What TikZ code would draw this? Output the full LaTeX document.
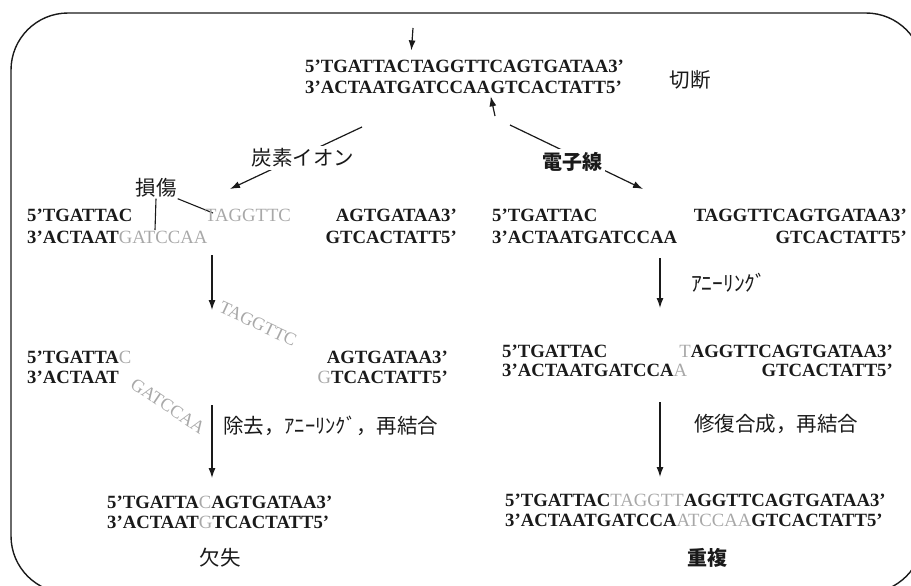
\documentclass[tikz,border=0pt]{standalone}
\usepackage{fontspec}
\setmainfont{Liberation Serif}
\newfontfamily\jpfont{Noto Sans CJK JP}
\usetikzlibrary{arrows.meta}
\definecolor{dnaink}{HTML}{1A1A1A}
\definecolor{dnafaint}{HTML}{A8A8A8}
\newcommand{\dmgtxt}[1]{{\color{dnafaint}\mdseries #1}}
\tikzset{
  dna/.style={anchor=base west, inner sep=0pt, text=dnaink,
    font=\fontsize{18.7}{20}\selectfont\bfseries},
  dnar/.style={dna, anchor=base east},
  drift/.style={dna, anchor=center, text=dnafaint,
    font=\fontsize{18}{20}\selectfont},
  lbl/.style={font=\jpfont\fontsize{20.5}{22}\selectfont, inner sep=1pt, text=dnaink},
  arr/.style={-{Latex[length=10pt,width=7pt]}, line width=1.2pt, dnaink},
  pin/.style={line width=1.1pt, dnaink},
}

\begin{document}
\begin{tikzpicture}[x=1pt, y=-1pt]
  \useasboundingbox (0,0) rectangle (911,586);
  \clip (0,0) rectangle (911,586);
  \draw[line width=1.4pt, dnaink, rounded corners=57pt] (11,13) rectangle (923,593);

  % intact duplex and the two cut sites
  \node[dna] (t5a) at (305,73) {5'TGATTAC};
  \node[dna] (t5b) at (t5a.base east) {TAGGTTCAGTGATAA3'};
  \node[dna] (t3a) at (305,94) {3'ACTAATGATCCAA};
  \node[dna] (t3b) at (t3a.base east) {GTCACTATT5'};
  \node[lbl] (cut) at (690,80) {切断};
  \coordinate (cutT) at (413,28);
  \coordinate (cutB) at (495,116);
  \draw[arr, shorten >=10pt] (cutT) -- (t5a.north east);
  \draw[arr, shorten >=2pt] (cutB) -- (t3a.south east);

  % the two beams
  \coordinate (ionS) at (362,127);
  \coordinate (ionE) at (230,189);
  \coordinate (elS) at (510,125);
  \coordinate (elE) at (643,189);
  \draw[arr] (ionS) -- (ionE);
  \draw[arr] (elS) -- (elE);
  \node[lbl, fill=white, inner sep=3pt] (ion) at (303,158) {炭素イオン};
  \node[lbl, fill=white, inner sep=3pt, font=\jpfont\bfseries\fontsize{20}{22}\selectfont] (el) at (572,162) {電子線};

  % carbon ion: damaged ends
  \node[lbl] (dmg) at (156,188) {損傷};
  \coordinate (dmgA) at (155,230);
  \coordinate (dmgB) at (213,213);
  \draw[pin] (dmg.south) -- (dmgA);
  \draw[pin] (dmg.south east) -- (dmgB);
  \node[dna] (d5a) at (27,221) {5'TGATTAC};
  \node[dna, text=dnafaint, font=\fontsize{18.7}{20}\selectfont] (d5b) at (205,221) {TAGGTTC};
  \node[dnar] (d5c) at (457,221) {AGTGATAA3'};
  \node[dna] (d3a) at (27,243) {3'ACTAAT\dmgtxt{GATCCAA}};
  \node[dnar] (d3c) at (457,243) {GTCACTATT5'};

  \coordinate (l1S) at (212,255);
  \coordinate (l1E) at (212,310);
  \draw[arr] (l1S) -- (l1E);

  % loose damaged pieces
  \node[drift, rotate=-25] (lost5) at (258,324) {TAGGTTC};
  \node[dna] (m5a) at (27,363) {5'TGATTA\dmgtxt{C}};
  \node[dnar] (m5c) at (448,363) {AGTGATAA3'};
  \node[dna] (m3a) at (27,383) {3'ACTAAT};
  \node[drift, rotate=-34] (lost3) at (168,406) {GATCCAA};
  \node[dnar] (m3c) at (448,383) {\dmgtxt{G}TCACTATT5'};

  \coordinate (l2S) at (212,405);
  \coordinate (l2E) at (212,478);
  \draw[arr] (l2S) -- (l2E);
  \node[lbl, anchor=west] (rmv) at (222,426) {除去，ｱﾆｰﾘﾝｸﾞ，再結合};

  \node[dna] (f5) at (107,508) {5'TGATTA\dmgtxt{C}AGTGATAA3'};
  \node[dna] (f3) at (107,528) {3'ACTAAT\dmgtxt{G}TCACTATT5'};
  \node[lbl] (del) at (220,558) {欠失};

  % electron beam: clean break
  \node[dna] (r5a) at (492,221) {5'TGATTAC};
  \node[dnar] (r5b) at (907,221) {TAGGTTCAGTGATAA3'};
  \node[dna] (r3a) at (492,243) {3'ACTAATGATCCAA};
  \node[dnar] (r3b) at (907,243) {GTCACTATT5'};

  \coordinate (r1S) at (660,258);
  \coordinate (r1E) at (660,308);
  \draw[arr] (r1S) -- (r1E);
  \node[lbl, anchor=west, font=\jpfont\fontsize{21.5}{23}\selectfont] (ann) at (690,283) {ｱﾆｰﾘﾝｸﾞ};

  \node[dna] (s5a) at (502,357) {5'TGATTAC};
  \node[dnar] (s5b) at (893,357) {\dmgtxt{T}AGGTTCAGTGATAA3'};
  \node[dna] (s3a) at (502,376) {3'ACTAATGATCCA\dmgtxt{A}};
  \node[dnar] (s3b) at (893,376) {GTCACTATT5'};

  \coordinate (r2S) at (660,402);
  \coordinate (r2E) at (660,477);
  \draw[arr] (r2S) -- (r2E);
  \node[lbl, anchor=west] (fill) at (693,424) {修復合成，再結合};

  \node[dna] (g5) at (505,506) {5'TGATTAC\dmgtxt{TAGGTT}AGGTTCAGTGATAA3'};
  \node[dna] (g3) at (505,526) {3'ACTAATGATCCA\dmgtxt{ATCCAA}GTCACTATT5'};
  \node[lbl, font=\jpfont\bfseries\fontsize{20}{22}\selectfont] (dup) at (707,558) {重複};
\end{tikzpicture}
\end{document}
